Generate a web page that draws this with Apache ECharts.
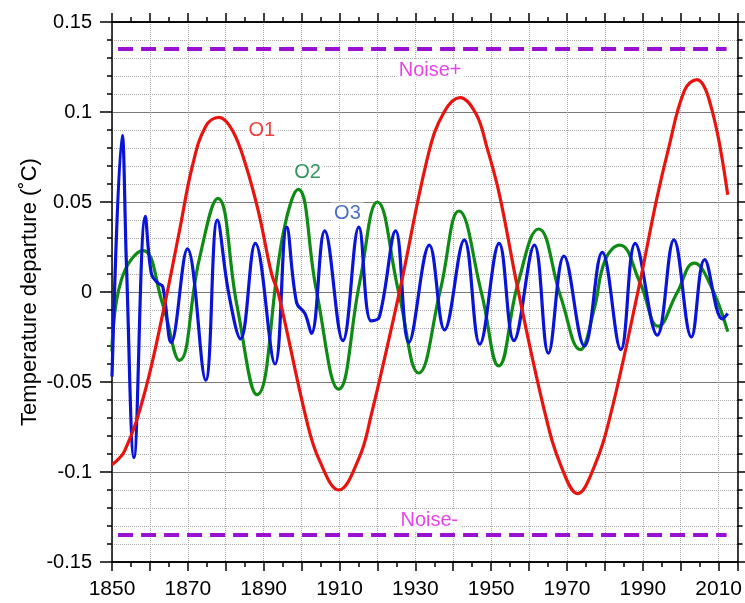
<!DOCTYPE html>
<html>
<head>
<meta charset="utf-8">
<script src="https://cdn.jsdelivr.net/npm/echarts@6/dist/echarts.min.js"></script>
<style>
html,body{margin:0;padding:0;background:#fff;}
#chart{width:745px;height:603px;}
</style>
</head>
<body>
<div id="chart"></div>
<script>
// ---- Data ----
const xLabelYears = [1850, 1870, 1890, 1910, 1930, 1950, 1970, 1990, 2010];
const yTickValues = [-0.15, -0.1, -0.05, 0, 0.05, 0.1, 0.15];

const o1Years  = [1850, 1853.4, 1858.6, 1863.8, 1867.8, 1871.2, 1874.7, 1878.2, 1881.7, 1885.2, 1888.7, 1892.1, 1893.9, 1901.3, 1904.6, 1909.8, 1915.2, 1918.3, 1925.7, 1933.5, 1937.6, 1941.8, 1946.0, 1948.8, 1952.2, 1957.1, 1964.4, 1968.5, 1972.8, 1977.2, 1981.4, 1988.8, 1993.6, 1996.7, 2001.0, 2004.3, 2006.2, 2008.0, 2009.7, 2011.0, 2012.4];
const o1Values = [-0.096, -0.088, -0.056, -0.008, 0.034, 0.070, 0.092, 0.097, 0.090, 0.071, 0.044, 0.010, -0.001, -0.071, -0.093, -0.110, -0.092, -0.069, -0.001, 0.077, 0.100, 0.108, 0.099, 0.081, 0.054, 0.001, -0.069, -0.097, -0.112, -0.097, -0.069, 0.001, 0.051, 0.079, 0.112, 0.118, 0.114, 0.103, 0.088, 0.073, 0.054];

const o2Years  = [1850, 1852.5, 1858.2, 1863.4, 1867.8, 1873, 1877.9, 1883, 1888.2, 1895.2, 1899.1, 1903.9, 1909.8, 1915.3, 1920.0, 1925.7, 1930.9, 1936.6, 1941.5, 1947.5, 1952.0, 1957.1, 1962.5, 1968.4, 1973.5, 1977.1, 1980.1, 1983.9, 1989.3, 1994.1, 1998.9, 2003.6, 2007.6, 2012.4];
const o2Values = [-0.033, 0.007, 0.023, -0.007, -0.038, 0.018, 0.052, -0.008, -0.057, 0.033, 0.057, 0.001, -0.054, 0.005, 0.050, -0.001, -0.045, 0.001, 0.045, -0.001, -0.041, 0.005, 0.035, -0.003, -0.032, -0.010, 0.018, 0.026, 0.005, -0.019, -0.001, 0.016, 0.005, -0.022];

const o3Years  = [1850, 1852.7, 1853.8, 1855.8, 1858.8, 1860.4, 1862.1, 1863.4, 1865.6, 1869.9, 1874.7, 1877.8, 1880.8, 1883.9, 1887.8, 1893.0, 1896.1, 1898.7, 1900.9, 1902.6, 1906.1, 1910.9, 1915.1, 1918.3, 1920.5, 1924.8, 1928.3, 1933.7, 1937.7, 1942.9, 1947.0, 1952.1, 1956.0, 1961.4, 1965.1, 1969.2, 1974.6, 1979.3, 1984.2, 1988.0, 1993.8, 1998.2, 2002.8, 2006.3, 2011.0, 2012.4];
const o3Values = [-0.047, 0.087, 0.016, -0.092, 0.042, 0.010, 0.005, 0.003, -0.028, 0.024, -0.049, 0.040, -0.001, -0.026, 0.027, -0.040, 0.036, -0.006, -0.012, -0.023, 0.034, -0.027, 0.036, -0.016, -0.014, 0.034, -0.028, 0.026, -0.021, 0.029, -0.029, 0.027, -0.027, 0.026, -0.034, 0.020, -0.030, 0.022, -0.032, 0.027, -0.024, 0.029, -0.025, 0.018, -0.015, -0.012];

const noiseYears = [1851.6, 2012.1];
const noiseUpper = 0.135;
const noiseLower = -0.135;

// annotation labels: [text, year, value]
const seriesLabels = [
  ['O1', 1889.5, 0.0897],
  ['O2', 1901.6, 0.0664],
  ['O3', 1912.1, 0.0436]
];
const noiseLabels = [
  ['Noise+', 1933.9, 0.1228],
  ['Noise-', 1933.7, -0.1267]
];

// ---- Styling ----
const FONT = 'Liberation Sans, Arial, sans-serif';
const RED = '#e8140f', GREEN = '#0f8a14', BLUE = '#0a14d6', PURPLE = '#9a10d2';
const labelColors = { O1: '#ee1010', O2: '#007a36', O3: '#1a4cb8' };
const NOISE_TEXT = '#e014e0';

function zip(xs, ys) { return xs.map((x, i) => [x, ys[i]]); }

const baseX = { type: 'value', min: 1850, max: 2015, gridIndex: 0 };
const axisLineStyle = { show: true, onZero: false, lineStyle: { color: '#000', width: 1.5 } };

const labelData = seriesLabels.concat(noiseLabels).map(l => ({
  name: l[0], value: [l[1], l[2]],
  label: { color: labelColors[l[0]] || NOISE_TEXT }
}));

const chart = echarts.init(document.getElementById('chart'), null, { renderer: 'canvas' });
chart.setOption({
  animation: false,
  backgroundColor: '#fff',
  grid: { left: 112, right: 1, top: 22, bottom: 41, containLabel: false },
  xAxis: [
    Object.assign({}, baseX, {
      position: 'bottom', interval: 10,
      axisLine: axisLineStyle,
      axisTick: { show: true, length: 9, lineStyle: { color: '#000', width: 1.5 } },
      splitLine: { show: true, lineStyle: { color: '#a8a8a8', type: 'dotted', width: 1 } },
      axisLabel: {
        show: true, margin: 17, fontSize: 21, color: '#000', fontFamily: FONT,
        formatter: v => xLabelYears.indexOf(Math.round(v)) >= 0 ? String(Math.round(v)) : ''
      }
    }),
    Object.assign({}, baseX, {
      position: 'bottom', interval: 5,
      axisLine: axisLineStyle,
      axisTick: { show: true, length: 5, lineStyle: { color: '#000', width: 1.5 } },
      splitLine: { show: false }, axisLabel: { show: false }
    }),
    Object.assign({}, baseX, {
      position: 'top', interval: 10,
      axisLine: axisLineStyle,
      axisTick: { show: true, length: 9, lineStyle: { color: '#000', width: 1.5 } },
      splitLine: { show: false }, axisLabel: { show: false }
    }),
    Object.assign({}, baseX, {
      position: 'top', interval: 5,
      axisLine: axisLineStyle,
      axisTick: { show: true, length: 5, lineStyle: { color: '#000', width: 1.5 } },
      splitLine: { show: false }, axisLabel: { show: false }
    })
  ],
  yAxis: [
    {
      type: 'value', min: -0.15, max: 0.15, interval: 0.05, position: 'left',
      name: 'Temperature departure (˚C)', nameLocation: 'middle', nameGap: 71, nameRotate: 90,
      nameMoveOverlap: false,
      nameTextStyle: { fontSize: 22, color: '#000', fontFamily: FONT },
      axisLine: axisLineStyle,
      axisTick: { show: true, length: 12, lineStyle: { color: '#000', width: 1.5 } },
      minorTick: { show: true, splitNumber: 5, length: 5, lineStyle: { color: '#000', width: 1.5 } },
      splitLine: { show: true, lineStyle: { color: '#7a7a7a', width: 1.2 } },
      minorSplitLine: { show: true, lineStyle: { color: '#a8a8a8', type: 'dotted', width: 1 } },
      axisLabel: {
        margin: 20, fontSize: 20, color: '#000', fontFamily: FONT,
        formatter: v => {
          const r = Math.round(v * 100) / 100;
          const t = yTickValues.find(x => Math.abs(x - r) < 1e-9);
          return t === undefined ? '' : String(t);
        }
      }
    },
    {
      type: 'value', min: -0.15, max: 0.15, interval: 0.05, position: 'right',
      axisLine: axisLineStyle,
      axisTick: { show: true, length: 12, lineStyle: { color: '#000', width: 1.5 } },
      minorTick: { show: true, splitNumber: 5, length: 5, lineStyle: { color: '#000', width: 1.5 } },
      splitLine: { show: false }, axisLabel: { show: false }
    }
  ],
  series: [
    {
      type: 'line', name: 'Noise+', data: zip(noiseYears, noiseYears.map(() => noiseUpper)),
      showSymbol: false, symbol: 'none', silent: true,
      lineStyle: { color: PURPLE, width: 4, type: [15, 8] }
    },
    {
      type: 'line', name: 'Noise-', data: zip(noiseYears, noiseYears.map(() => noiseLower)),
      showSymbol: false, symbol: 'none', silent: true,
      lineStyle: { color: PURPLE, width: 4, type: [15, 8] }
    },
    {
      type: 'scatter', name: 'labels', data: labelData,
      symbol: 'rect', symbolSize: 1, itemStyle: { color: 'rgba(255,255,255,0)' }, silent: true, z: 3,
      label: {
        show: true, position: 'inside', fontFamily: FONT, fontSize: 20,
        backgroundColor: '#fff', padding: [1, 3],
        formatter: p => p.name
      }
    },
    {
      type: 'line', name: 'O2', data: zip(o2Years, o2Values), smooth: 0.45,
      showSymbol: false, symbol: 'none', lineStyle: { color: GREEN, width: 3.2 }, z: 4
    },
    {
      type: 'line', name: 'O3', data: zip(o3Years, o3Values), smooth: 0.4,
      showSymbol: false, symbol: 'none', lineStyle: { color: BLUE, width: 3.2 }, z: 5
    },
    {
      type: 'line', name: 'O1', data: zip(o1Years, o1Values), smooth: 0.4,
      showSymbol: false, symbol: 'none', lineStyle: { color: RED, width: 3.2 }, z: 6
    }
  ]
});
</script>
</body>
</html>
